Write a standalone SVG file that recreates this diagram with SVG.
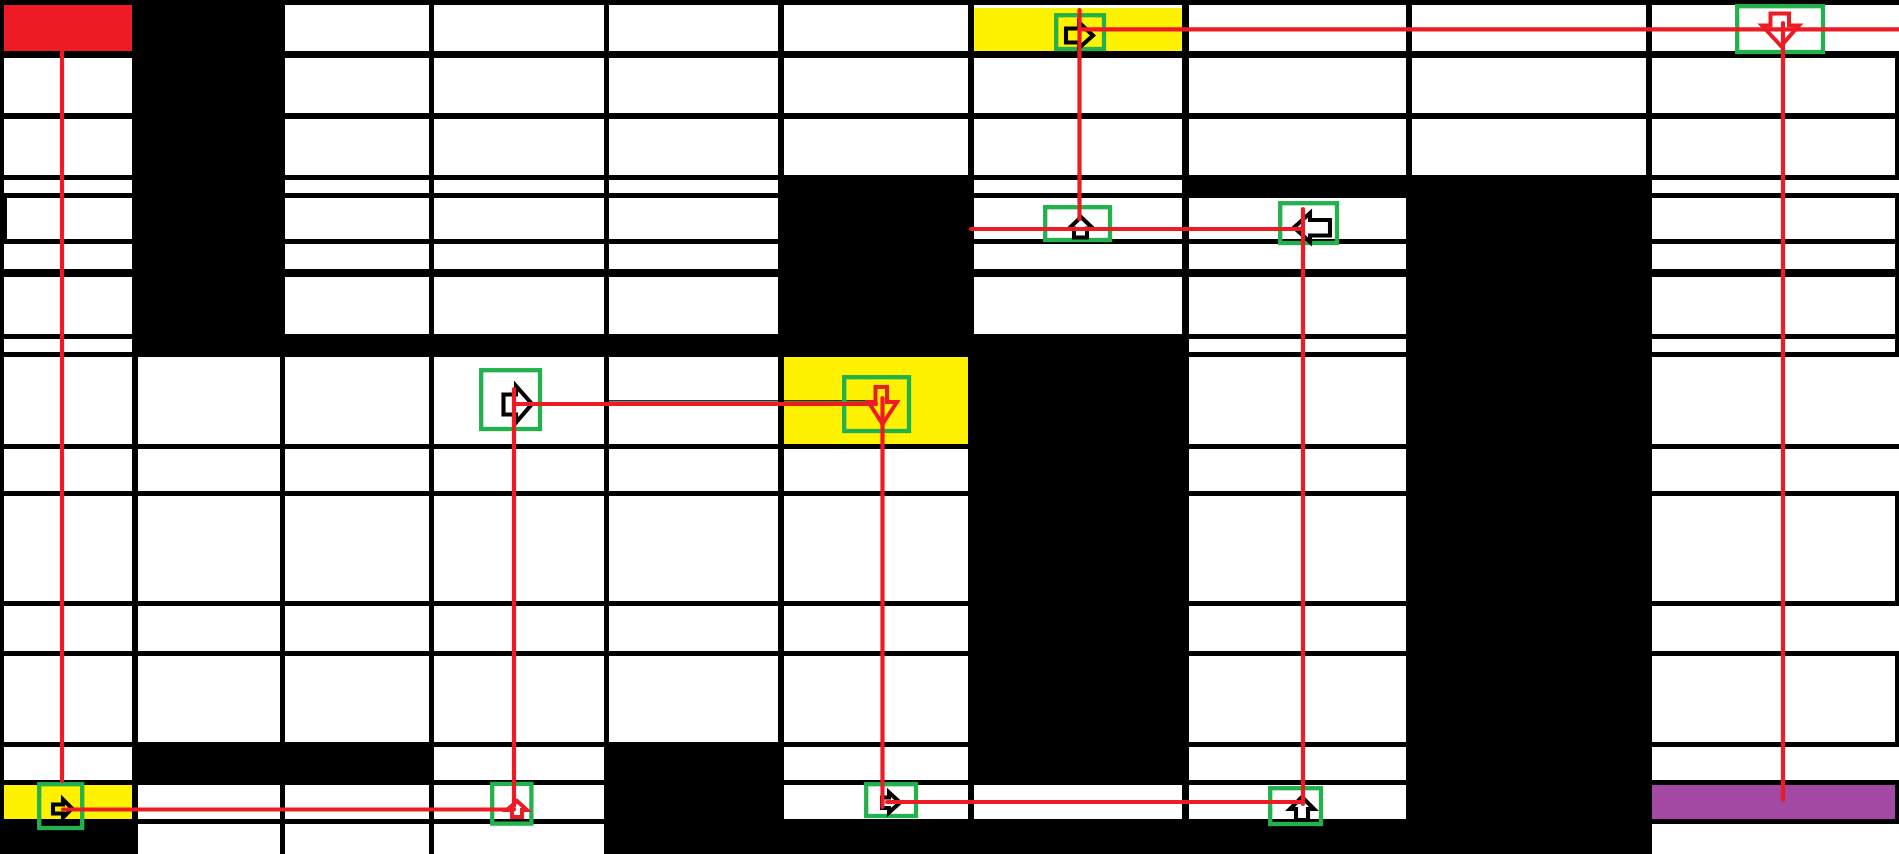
<svg xmlns="http://www.w3.org/2000/svg" width="1899" height="854" viewBox="0 0 1899 854">
<style>
.w{fill:#ffffff}
.y{fill:#FFF200}
.bx{fill:none;stroke:#22B14C;stroke-width:4.3}
.ab{fill:none;stroke:#000000;stroke-width:4.1;stroke-linejoin:miter}
.ar{fill:none;stroke:#ED1C24;stroke-width:4}
#connectors line{stroke:#ED1C24;stroke-width:4.2;stroke-linecap:round}
</style>
<rect x="0" y="0" width="1899" height="854" fill="#000000"/>
<g id="grid">
<rect id="start" x="4" y="5" width="128" height="46" fill="#ED1C24"/>
<rect class="w" x="285" y="5" width="144" height="46"/>
<rect class="w" x="434" y="5" width="170" height="46"/>
<rect class="w" x="609" y="5" width="169" height="46"/>
<rect class="w" x="784" y="5" width="184" height="46"/>
<rect class="w" x="974" y="5" width="208" height="46"/>
<rect class="y" x="974" y="8" width="208" height="43"/>
<rect class="w" x="1189" y="5" width="217" height="46"/>
<rect class="w" x="1412" y="5" width="234" height="46"/>
<rect class="w" x="1652" y="5" width="247" height="46"/>
<rect class="w" x="4" y="58" width="128" height="55"/>
<rect class="w" x="285" y="58" width="144" height="55"/>
<rect class="w" x="434" y="58" width="170" height="55"/>
<rect class="w" x="609" y="58" width="169" height="55"/>
<rect class="w" x="784" y="58" width="184" height="55"/>
<rect class="w" x="974" y="58" width="208" height="55"/>
<rect class="w" x="1189" y="58" width="217" height="55"/>
<rect class="w" x="1412" y="58" width="234" height="55"/>
<rect class="w" x="1652" y="58" width="243" height="55"/>
<rect class="w" x="4" y="119" width="128" height="56"/>
<rect class="w" x="285" y="119" width="144" height="56"/>
<rect class="w" x="434" y="119" width="170" height="56"/>
<rect class="w" x="609" y="119" width="169" height="56"/>
<rect class="w" x="784" y="119" width="184" height="56"/>
<rect class="w" x="974" y="119" width="208" height="56"/>
<rect class="w" x="1189" y="119" width="217" height="56"/>
<rect class="w" x="1412" y="119" width="234" height="56"/>
<rect class="w" x="1652" y="119" width="243" height="56"/>
<rect class="w" x="4" y="180" width="128" height="13"/>
<rect class="w" x="285" y="180" width="144" height="13"/>
<rect class="w" x="434" y="180" width="170" height="13"/>
<rect class="w" x="609" y="180" width="169" height="13"/>
<rect class="w" x="974" y="180" width="208" height="13"/>
<rect class="w" x="1652" y="180" width="247" height="13"/>
<rect class="w" x="7" y="198" width="125" height="41"/>
<rect class="w" x="285" y="198" width="144" height="41"/>
<rect class="w" x="434" y="198" width="170" height="41"/>
<rect class="w" x="609" y="198" width="169" height="41"/>
<rect class="w" x="974" y="198" width="208" height="41"/>
<rect class="w" x="1189" y="198" width="217" height="41"/>
<rect class="w" x="1652" y="198" width="243" height="41"/>
<rect class="w" x="4" y="244" width="128" height="25"/>
<rect class="w" x="285" y="244" width="144" height="25"/>
<rect class="w" x="434" y="244" width="170" height="25"/>
<rect class="w" x="609" y="244" width="169" height="25"/>
<rect class="w" x="974" y="244" width="208" height="25"/>
<rect class="w" x="1189" y="244" width="217" height="25"/>
<rect class="w" x="1652" y="244" width="243" height="25"/>
<rect class="w" x="4" y="277" width="128" height="57"/>
<rect class="w" x="285" y="277" width="144" height="57"/>
<rect class="w" x="434" y="277" width="170" height="57"/>
<rect class="w" x="609" y="277" width="169" height="57"/>
<rect class="w" x="974" y="277" width="208" height="57"/>
<rect class="w" x="1189" y="277" width="217" height="57"/>
<rect class="w" x="1652" y="277" width="243" height="57"/>
<rect class="w" x="4" y="339" width="128" height="13"/>
<rect class="w" x="1189" y="339" width="217" height="13"/>
<rect class="w" x="1652" y="339" width="243" height="13"/>
<rect class="w" x="4" y="357" width="128" height="87"/>
<rect class="w" x="138" y="357" width="142" height="87"/>
<rect class="w" x="285" y="357" width="144" height="87"/>
<rect class="w" x="434" y="357" width="170" height="87"/>
<rect class="w" x="609" y="357" width="169" height="87"/>
<rect class="y" x="784" y="357" width="184" height="87"/>
<rect class="w" x="1189" y="357" width="217" height="87"/>
<rect class="w" x="1652" y="357" width="247" height="87"/>
<rect class="w" x="4" y="449" width="128" height="42"/>
<rect class="w" x="138" y="449" width="142" height="42"/>
<rect class="w" x="285" y="449" width="144" height="42"/>
<rect class="w" x="434" y="449" width="170" height="42"/>
<rect class="w" x="609" y="449" width="169" height="42"/>
<rect class="w" x="784" y="449" width="184" height="42"/>
<rect class="w" x="1189" y="449" width="217" height="42"/>
<rect class="w" x="1652" y="449" width="247" height="42"/>
<rect class="w" x="4" y="496" width="128" height="105"/>
<rect class="w" x="138" y="496" width="142" height="105"/>
<rect class="w" x="285" y="496" width="144" height="105"/>
<rect class="w" x="434" y="496" width="170" height="105"/>
<rect class="w" x="609" y="496" width="169" height="105"/>
<rect class="w" x="784" y="496" width="184" height="105"/>
<rect class="w" x="1189" y="496" width="217" height="105"/>
<rect class="w" x="1652" y="496" width="243" height="105"/>
<rect class="w" x="4" y="606" width="128" height="45"/>
<rect class="w" x="138" y="606" width="142" height="45"/>
<rect class="w" x="285" y="606" width="144" height="45"/>
<rect class="w" x="434" y="606" width="170" height="45"/>
<rect class="w" x="609" y="606" width="169" height="45"/>
<rect class="w" x="784" y="606" width="184" height="45"/>
<rect class="w" x="1189" y="606" width="217" height="45"/>
<rect class="w" x="1652" y="606" width="247" height="45"/>
<rect class="w" x="4" y="656" width="128" height="86"/>
<rect class="w" x="138" y="656" width="142" height="86"/>
<rect class="w" x="285" y="656" width="144" height="86"/>
<rect class="w" x="434" y="656" width="170" height="86"/>
<rect class="w" x="609" y="656" width="169" height="86"/>
<rect class="w" x="784" y="656" width="184" height="86"/>
<rect class="w" x="1189" y="656" width="217" height="86"/>
<rect class="w" x="1652" y="656" width="243" height="86"/>
<rect class="w" x="4" y="747" width="128" height="33"/>
<rect class="w" x="434" y="747" width="170" height="33"/>
<rect class="w" x="784" y="747" width="184" height="33"/>
<rect class="w" x="1189" y="747" width="217" height="33"/>
<rect class="w" x="1652" y="747" width="247" height="33"/>
<rect class="y" x="4" y="785" width="128" height="34"/>
<rect class="w" x="138" y="785" width="142" height="34"/>
<rect class="w" x="285" y="785" width="144" height="34"/>
<rect class="w" x="434" y="785" width="170" height="34"/>
<rect class="w" x="784" y="785" width="184" height="34"/>
<rect class="w" x="974" y="785" width="208" height="34"/>
<rect class="w" x="1189" y="785" width="217" height="34"/>
<rect id="goal" x="1652" y="785" width="243" height="34" fill="#A349A4"/>
<rect class="w" x="138" y="824" width="142" height="30"/>
<rect class="w" x="285" y="824" width="144" height="30"/>
<rect class="w" x="434" y="824" width="170" height="30"/>
<rect class="w" x="1652" y="824" width="247" height="30"/>
<rect x="609" y="400.2" width="267" height="1.3" fill="#000000"/>
</g>
<g id="n1"><rect class="bx" x="39.2" y="784.2" width="43" height="43.8"/><polygon class="ab" points="53,804.5 63,804.5 63,799.5 72,808.5 63,817.5 63,813.5 53,813.5"/></g>
<g id="n2"><rect class="bx" x="492.2" y="783.9" width="39.2" height="39.7"/><polygon class="ar" points="517,801 527,810 522,810 522,817 512,817 512,810 507,810"/></g>
<g id="n3"><rect class="bx" x="481.2" y="370.2" width="58.8" height="58.8"/><polygon class="ab" points="503.5,394.5 516,394.5 516,386 532,404 516,422.5 516,414.5 503.5,414.5"/></g>
<g id="n4"><rect class="bx" x="844.2" y="377.2" width="64.8" height="53.8"/><polygon class="ar" points="875.5,387 887,387 887,402 897,402 882.5,424 868.5,402 875.5,402"/></g>
<g id="n5"><rect class="bx" x="866.2" y="784.2" width="49.8" height="31.8"/><polygon class="ab" points="882,797.5 889,797.5 889,792.5 900,802.5 889,812.5 889,808 882,808"/></g>
<g id="n6"><rect class="bx" x="1270.2" y="788.2" width="50.8" height="35.8"/><polygon class="ab" points="1302,797 1314,809 1308,809 1308,820 1296,820 1296,809 1290,809"/></g>
<g id="n7"><rect class="bx" x="1280.2" y="203.2" width="56.8" height="39.8"/><polygon class="ab" points="1294,227.5 1310,213 1310,220 1330,220 1330,235.5 1310,235.5 1310,242"/></g>
<g id="n8"><rect class="bx" x="1045.2" y="207.2" width="64.8" height="32.8"/><polygon class="ab" points="1081,217 1093,228.5 1087,228.5 1087,237.5 1074,237.5 1074,228.5 1069,228.5"/></g>
<g id="n9"><rect class="bx" x="1056.2" y="15.2" width="47.8" height="33.8"/><polygon class="ab" points="1066,28.5 1079,28.5 1079,22.5 1093,35.5 1079,48 1079,42.5 1066,42.5"/></g>
<g id="n10"><rect class="bx" x="1737.2" y="6.2" width="85.8" height="45.8"/><polygon class="ar" points="1770.5,13.5 1789,13.5 1789,25.5 1799,25.5 1781,46 1762,25.5 1770.5,25.5"/></g>
<g id="connectors">
<line x1="62" y1="49" x2="62" y2="781"/>
<line x1="63" y1="809.5" x2="514" y2="809.5"/>
<line x1="514" y1="389" x2="514" y2="806"/>
<line x1="515" y1="404" x2="876" y2="404"/>
<line x1="882.5" y1="398" x2="882.5" y2="807"/>
<line x1="887" y1="802" x2="1302" y2="802"/>
<line x1="1303" y1="209" x2="1303" y2="804"/>
<line x1="971" y1="229" x2="1303" y2="229"/>
<line x1="1079.5" y1="10" x2="1079.5" y2="219"/>
<line x1="1080" y1="29.3" x2="1899" y2="29.3"/>
<line x1="1783" y1="23" x2="1783" y2="800"/>
</g>
</svg>
